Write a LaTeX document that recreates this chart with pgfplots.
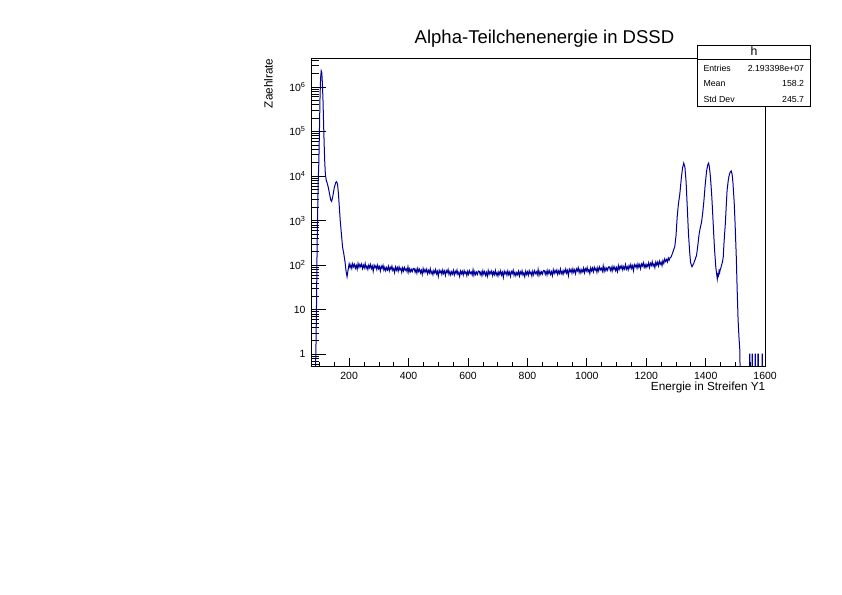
\documentclass[border=0pt]{standalone}
\usepackage{pgfplots}
\pgfplotsset{compat=1.18}
\usepackage{fontspec}
\setmainfont{Liberation Sans}
\definecolor{rootblue}{RGB}{0,0,153}
\begin{document}
\begin{tikzpicture}[x=1bp,y=1bp]
\useasboundingbox (0,0) rectangle (842,595);
\begin{axis}[
  at={(311.7bp,229bp)}, anchor=south west,
  scale only axis, width=454bp, height=307.7bp,
  xmin=74, xmax=1602, ymode=log, ymin=0.545, ymax=4.4e6,
  axis line style={line width=0.8bp},
  xtick={200,400,...,1600},
  xticklabels={200,400,600,800,1000,1200,1400,1600},
  minor xtick={100,150,...,1600},
  ytick={1,10,100,1000,10000,100000,1000000},
  yticklabels={1,10,10\textsuperscript{2},10\textsuperscript{3},10\textsuperscript{4},10\textsuperscript{5},10\textsuperscript{6}},
  minor ytick={0.6,0.7,0.8,0.9,2,3,4,5,6,7,8,9,20,30,40,50,60,70,80,90,200,300,400,500,600,700,800,900,2000,3000,4000,5000,6000,7000,8000,9000,20000,30000,40000,50000,60000,70000,80000,90000,200000,300000,400000,500000,600000,700000,800000,900000,2000000,3000000,4000000},
  xtick pos=bottom, ytick pos=left, tick align=inside,
  xtick style={/pgfplots/major tick length=8.5bp, /pgfplots/minor tick length=4bp, line width=0.7bp, black},
  ytick style={/pgfplots/major tick length=14bp, /pgfplots/minor tick length=7bp, line width=0.7bp, black},
  ticklabel style={font=\fontsize{10.5}{12}\selectfont},
  yticklabel style={inner sep=2pt, xshift=-4bp},
  xticklabel style={inner sep=2pt, yshift=-4.5bp},
]
\addplot[rootblue, line width=1bp] coordinates {
(86,0.3)(88,1)(90,10)(92,200)(94,1500)(96,8000)(98,20000)(100,100000)(102,600000)(104,1600000)(106,2300000)(108,2100000)(110,1200000)(112,500000)(114,150000)(116,50000)(118,20000)(120,11000)(123,8000)(126,7000)(130,5500)(134,4000)(138,2900)(141,2700)(145,3500)(150,5500)(155,7200)(158,7500)(161,6500)(164,4000)(167,2000)(170,1000)(174,500)(178,250)(182,180)(186,120)(190,70)(193,55)(196,75)
(200,107)(203,88)(206,103)(209,84)(212,108)(215,92)(218,104)(221,85)(224,99)(227,81)
(230,109)(233,89)(236,104)(239,92)(242,106)(245,84)(248,100)(251,87)(254,109)(257,85)
(260,95)(263,80)(266,100)(269,87)(272,104)(275,84)(278,95)(281,73)(284,100)(287,88)
(290,97)(293,80)(296,100)(299,83)(302,93)(305,74)(308,95)(311,85)(314,100)(317,77)
(320,90)(323,75)(326,88)(329,78)(332,94)(335,74)(338,90)(341,80)(344,95)(347,76)
(350,84)(353,68)(356,91)(359,77)(362,89)(365,73)(368,92)(371,78)(374,85)(377,69)
(380,87)(383,74)(386,89)(389,77)(392,83)(395,71)(398,92)(401,69)(404,83)(407,71)
(410,80)(413,72)(416,85)(419,84)(422,69)(425,81)(428,66)(431,85)(434,72)(437,81)
(440,67)(443,77)(446,62)(449,84)(452,69)(455,80)(458,70)(461,81)(464,64)(467,76)
(470,67)(473,83)(476,65)(479,73)(482,61)(485,76)(488,67)(491,80)(494,64)(497,73)
(500,56)(503,77)(506,68)(509,75)(512,62)(515,78)(518,65)(521,74)(524,59)(527,75)
(530,68)(533,80)(536,62)(539,72)(542,60)(545,71)(548,63)(551,76)(554,60)(557,73)
(560,65)(563,78)(566,62)(569,69)(572,56)(575,74)(578,64)(581,73)(584,60)(587,76)
(590,65)(593,71)(596,58)(599,73)(602,62)(605,75)(608,65)(611,70)(614,60)(617,79)
(620,59)(623,72)(626,61)(629,70)(632,62)(635,74)(638,73)(641,61)(644,71)(647,58)
(650,75)(653,63)(656,72)(659,59)(662,69)(665,56)(668,76)(671,62)(674,72)(677,64)
(680,74)(683,58)(686,70)(689,61)(692,76)(695,60)(698,68)(701,57)(704,71)(707,62)
(710,75)(713,60)(716,69)(719,53)(722,73)(725,64)(728,71)(731,59)(734,74)(737,61)
(740,70)(743,56)(746,72)(749,65)(752,77)(755,59)(758,69)(761,58)(764,68)(767,61)
(770,73)(773,57)(776,71)(779,63)(782,75)(785,60)(788,67)(791,55)(794,73)(797,62)
(800,71)(803,59)(806,75)(809,64)(812,70)(815,57)(818,73)(821,61)(824,75)(827,65)
(830,71)(833,61)(836,80)(839,59)(842,72)(845,62)(848,71)(851,63)(854,76)(857,75)
(860,62)(863,73)(866,60)(869,77)(872,65)(875,75)(878,62)(881,71)(884,58)(887,79)
(890,65)(893,76)(896,67)(899,78)(902,62)(905,74)(908,65)(911,82)(914,64)(917,73)
(920,62)(923,77)(926,68)(929,82)(932,66)(935,76)(938,58)(941,81)(944,71)(947,80)
(950,66)(953,83)(956,69)(959,79)(962,64)(965,82)(968,74)(971,88)(974,68)(977,80)
(980,67)(983,79)(986,71)(989,86)(992,67)(995,83)(998,74)(1001,89)(1004,71)(1007,79)
(1010,65)(1013,87)(1016,74)(1019,86)(1022,71)(1025,90)(1028,77)(1031,85)(1034,69)(1037,88)
(1040,74)(1043,91)(1046,79)(1049,85)(1052,73)(1055,97)(1058,72)(1061,88)(1064,75)(1067,86)
(1070,77)(1073,92)(1076,92)(1079,76)(1082,89)(1085,73)(1088,94)(1091,80)(1094,91)(1097,75)
(1100,88)(1103,72)(1106,98)(1109,80)(1112,95)(1115,84)(1118,97)(1121,78)(1124,93)(1127,82)
(1130,103)(1133,81)(1136,92)(1139,78)(1142,98)(1145,86)(1148,104)(1151,84)(1154,97)(1157,75)
(1160,103)(1163,92)(1166,102)(1169,85)(1172,107)(1175,90)(1178,103)(1181,83)(1184,106)(1187,96)
(1190,114)(1193,89)(1196,104)(1199,88)(1202,103)(1205,93)(1208,113)(1211,89)(1214,110)(1217,98)
(1220,119)(1223,95)(1226,106)(1229,88)(1232,117)(1235,101)(1238,116)(1241,96)(1244,123)(1247,105)
(1250,117)(1253,97)(1256,126)(1259,109)(1262,137)(1265,121)(1268,134)(1271,118)(1274,145)(1277,129)
(1280,147)(1283,150)(1286,168)(1289,192)
(1293,230)(1296,260)(1300,450)(1304,1200)(1308,2300)(1313,4000)(1318,9000)(1322,15000)(1326,19500)(1330,16000)(1334,7500)(1338,2000)(1342,510)(1346,200)(1349,115)(1352,100)(1354,92)(1356,98)(1358,104)(1360,110)(1362,122)(1364,130)(1366,145)(1369,163)(1373,260)(1378,510)(1382,700)(1386,920)(1390,1500)(1394,2800)(1398,6000)(1403,13000)(1407,18000)(1410,19500)(1413,15000)(1416,9500)(1420,4000)(1423,1700)(1427,500)(1430,213)(1434,90)(1436,70)(1437,63)(1439,49)(1441,62)(1443,58)(1445,75)(1447,68)(1449,80)(1451,86)(1453,98)(1456,115)(1459,150)(1462,350)(1466,840)(1469,2000)(1472,4800)(1476,8000)(1479,10400)(1483,12500)(1486,13000)(1489,11000)(1492,6700)(1496,2500)(1499,840)(1503,150)(1506,27)(1509,6)(1512,2.4)(1515,1.2)(1516,0.3)
(1548,0.3)(1548,1)(1549,1)(1549,0.3)
(1556,0.3)(1556,1)(1557,1)(1557,0.3)
(1566,0.3)(1566,1)(1567,1)(1567,0.3)
(1576,0.3)(1576,1)(1577,1)(1577,0.3)
(1590,0.3)(1590,1)(1591,1)(1591,0.3)
};
\end{axis}
% title and axis titles
\node[anchor=base, font=\fontsize{18.6}{20}\selectfont] at (544.5,551.7) {Alpha-Teilchenenergie in DSSD};
\node[anchor=base east, font=\fontsize{11.8}{13}\selectfont, inner sep=0pt] at (765.5,204) {Energie in Streifen Y1};
\node[anchor=base east, rotate=90, font=\fontsize{11.8}{13}\selectfont, inner sep=0pt] at (272.5,536.7) {Zaehlrate};
% statistics box
\draw[fill=white, line width=0.8bp] (697.3,488.3) rectangle (810.7,550);
\draw[line width=0.8bp] (697.3,535.6) -- (810.7,535.6);
\node[font=\fontsize{12.3}{13}\selectfont, anchor=base] at (754,539) {h};
\begin{scope}[every node/.style={font=\fontsize{8.8}{10}\selectfont, inner sep=0pt}]
\node[anchor=base west] at (703.3,523.5) {Entries};
\node[anchor=base east] at (804.3,523.5) {2.193398e+07};
\node[anchor=base west] at (703.3,508.5) {Mean};
\node[anchor=base east] at (804.3,508.5) {158.2};
\node[anchor=base west] at (703.3,492.5) {Std Dev};
\node[anchor=base east] at (804.3,492.5) {245.7};
\end{scope}
\end{tikzpicture}
\end{document}
